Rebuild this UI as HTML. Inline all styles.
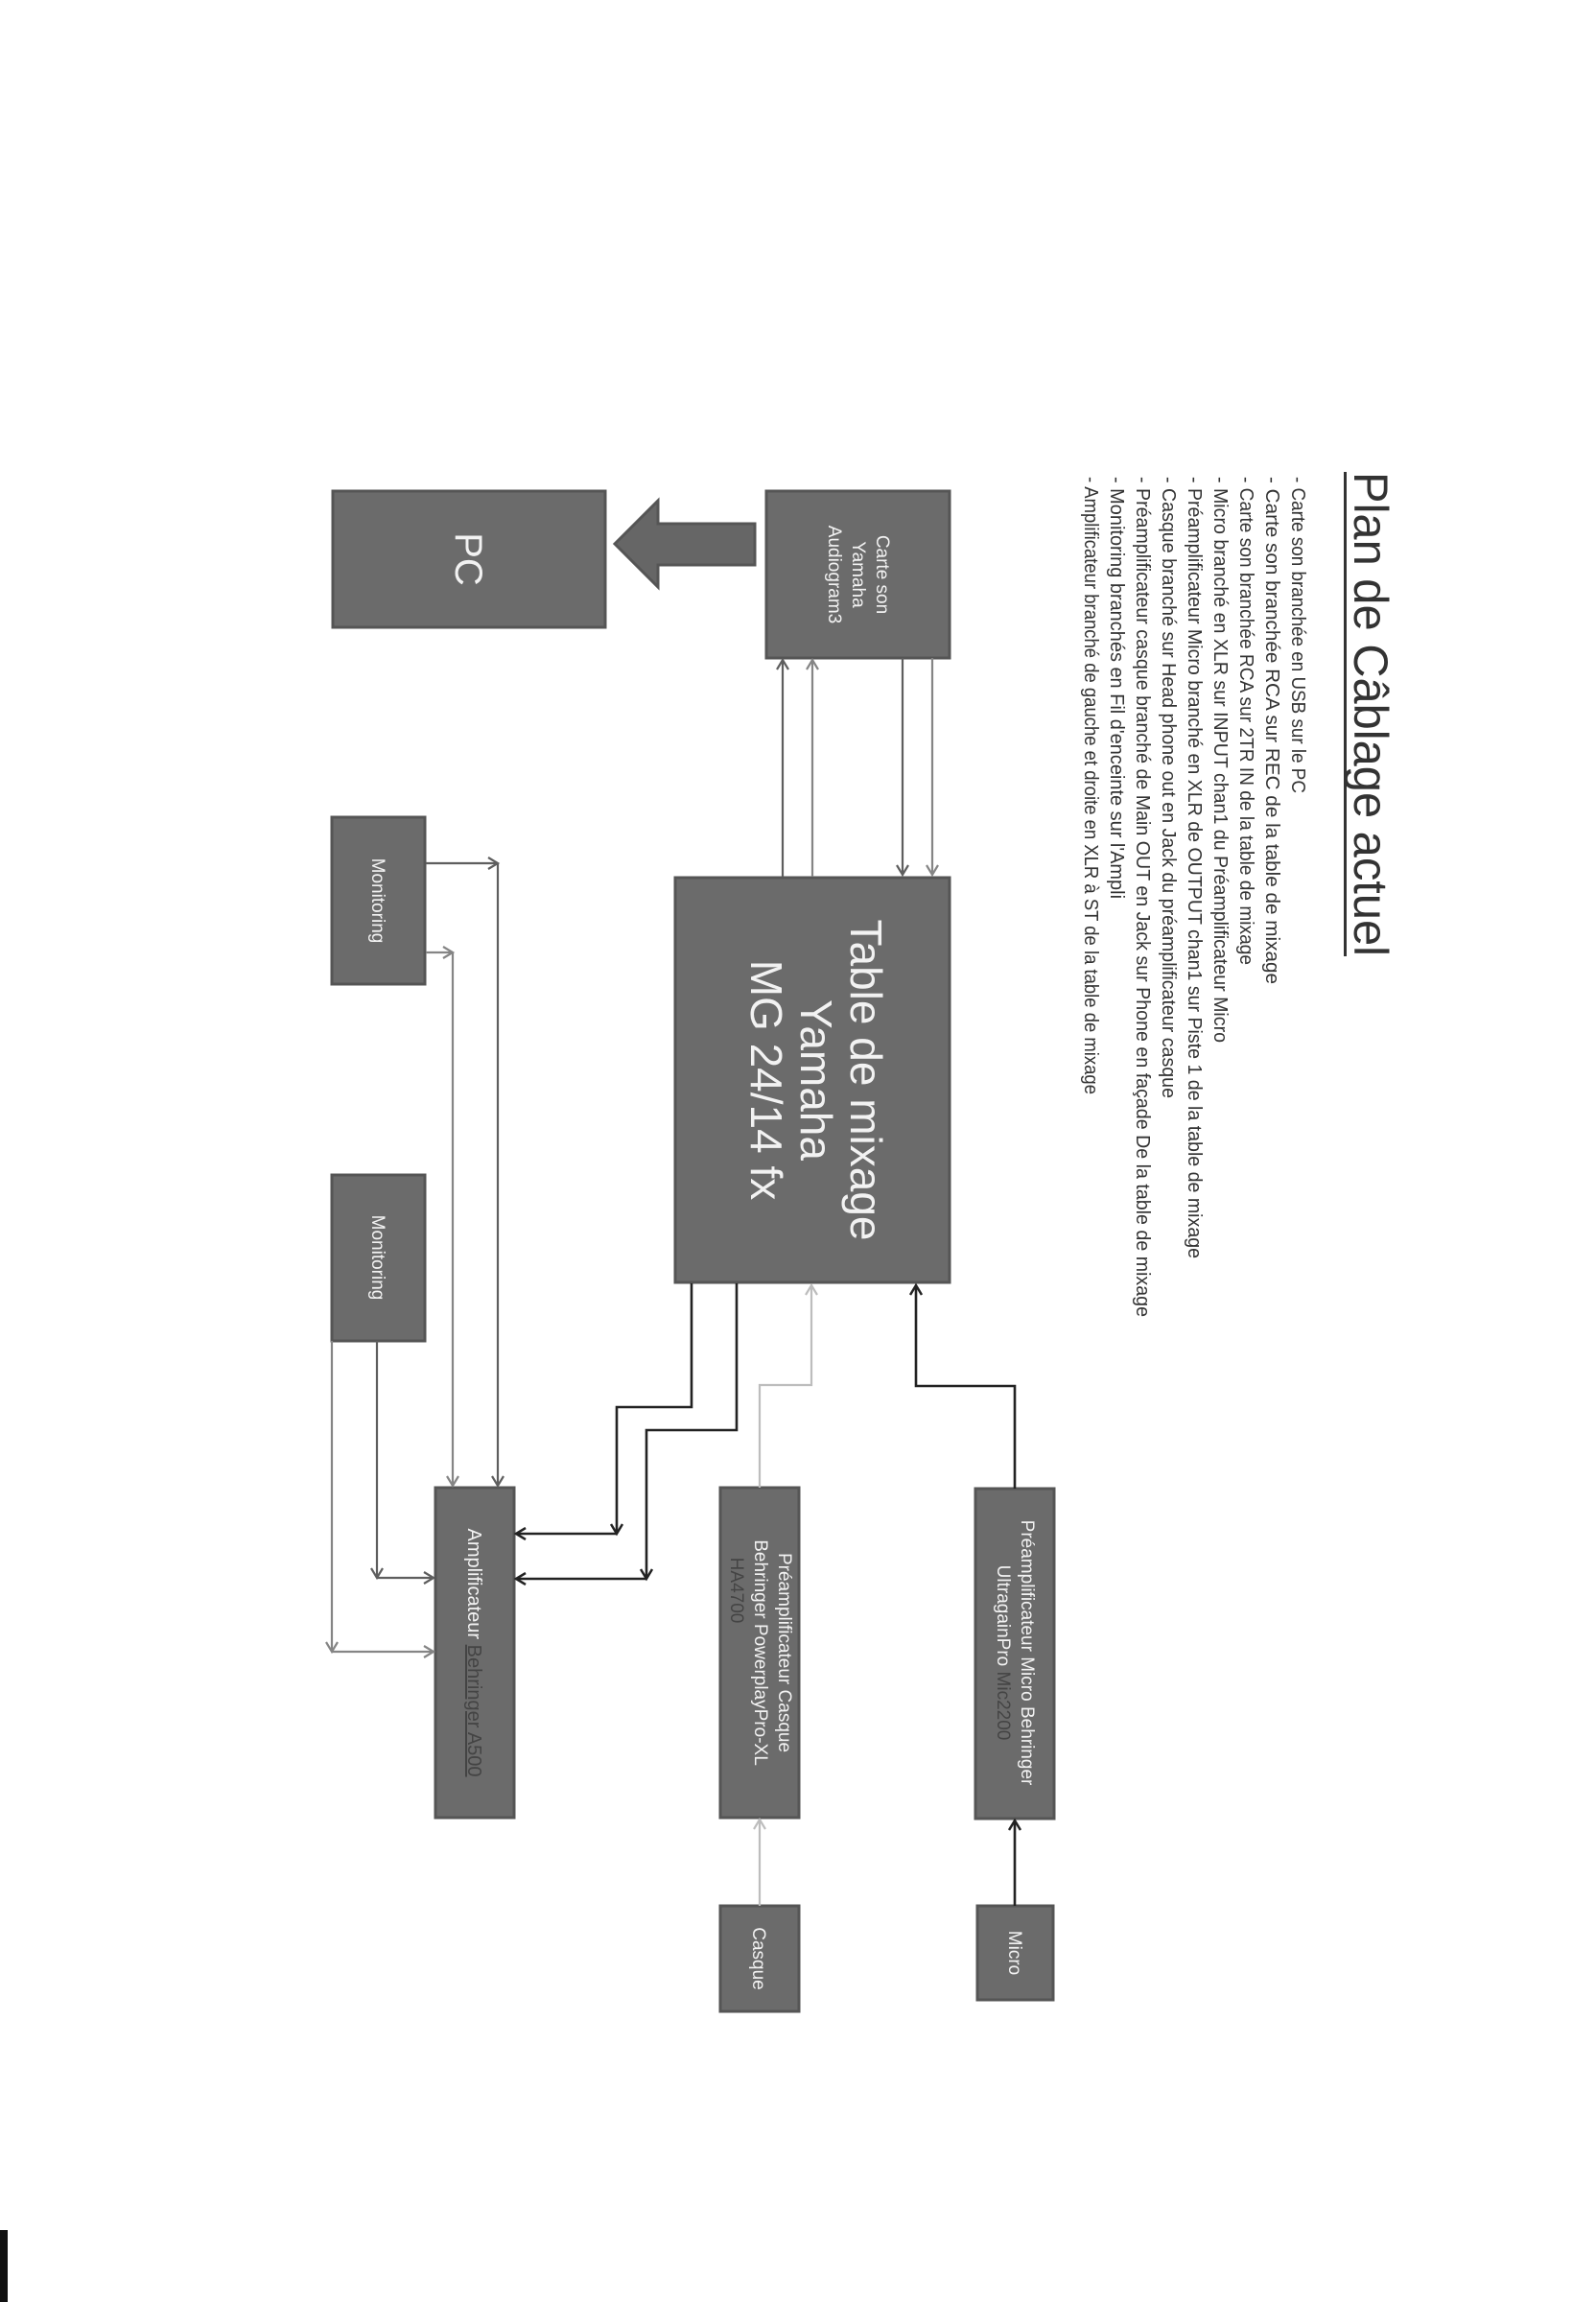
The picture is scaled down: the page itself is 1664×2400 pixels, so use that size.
<!DOCTYPE html>
<html><head><meta charset="utf-8"><style>
html,body{margin:0;padding:0;background:#fff;}
svg{display:block;}
text{font-family:"Liberation Sans","DejaVu Sans",sans-serif;}
</style></head><body>
<svg width="1664" height="2400" viewBox="0 0 1664 2400" xmlns="http://www.w3.org/2000/svg">
<defs>
<marker id="aD" markerWidth="14" markerHeight="14" refX="11" refY="7" orient="auto" markerUnits="userSpaceOnUse"><path d="M1,1 L11,7 L1,13" fill="none" stroke="#222" stroke-width="2.5"/></marker>
<marker id="aM" markerWidth="14" markerHeight="14" refX="11" refY="7" orient="auto" markerUnits="userSpaceOnUse"><path d="M1,1 L11,7 L1,13" fill="none" stroke="#5e5e5e" stroke-width="2.2"/></marker>
<marker id="aG" markerWidth="14" markerHeight="14" refX="11" refY="7" orient="auto" markerUnits="userSpaceOnUse"><path d="M1,1 L11,7 L1,13" fill="none" stroke="#858585" stroke-width="2.2"/></marker>
<marker id="aL" markerWidth="14" markerHeight="14" refX="11" refY="7" orient="auto" markerUnits="userSpaceOnUse"><path d="M1,1 L11,7 L1,13" fill="none" stroke="#bdbdbd" stroke-width="2.2"/></marker>
</defs>

<!-- Title -->
<g transform="translate(1412,492) rotate(90)">
<text x="0" y="0" font-size="50" fill="#333" textLength="505" lengthAdjust="spacingAndGlyphs">Plan de Câblage actuel</text>
<rect x="0" y="8" width="505" height="3" fill="#333"/>
</g>

<!-- bullets -->
<g font-size="20" fill="#333">
<text transform="translate(1347,497) rotate(90)" textLength="330" lengthAdjust="spacingAndGlyphs">- Carte son branchée en USB sur le PC</text>
<text transform="translate(1320,497) rotate(90)" textLength="529" lengthAdjust="spacingAndGlyphs">- Carte son branchée RCA sur REC de la table de mixage</text>
<text transform="translate(1293,497) rotate(90)" textLength="509" lengthAdjust="spacingAndGlyphs">- Carte son branchée RCA sur 2TR IN de la table de mixage</text>
<text transform="translate(1266,497) rotate(90)" textLength="590" lengthAdjust="spacingAndGlyphs">- Micro branché en XLR sur INPUT chan1 du Préamplificateur Micro</text>
<text transform="translate(1239,497) rotate(90)" textLength="815" lengthAdjust="spacingAndGlyphs">- Préamplificateur Micro branché en XLR de OUTPUT chan1 sur Piste 1 de la table de mixage</text>
<text transform="translate(1212,497) rotate(90)" textLength="648" lengthAdjust="spacingAndGlyphs">- Casque branché sur Head phone out en Jack du préamplificateur casque</text>
<text transform="translate(1185,497) rotate(90)" textLength="876" lengthAdjust="spacingAndGlyphs">- Préamplificateur casque branché de Main OUT en Jack sur Phone en façade De la table de mixage</text>
<text transform="translate(1158,497) rotate(90)" textLength="440" lengthAdjust="spacingAndGlyphs">- Monitoring branchés en Fil d'enceinte sur l'Ampli</text>
<text transform="translate(1131,497) rotate(90)" textLength="644" lengthAdjust="spacingAndGlyphs">- Amplificateur branché de gauche et droite en XLR à ST de la table de mixage</text>
</g>

<!-- boxes -->
<g fill="#6b6b6b" stroke="#555" stroke-width="3">
<rect x="347" y="512" width="284" height="142"/>
<rect x="799" y="512" width="191" height="174"/>
<rect x="704" y="915" width="286" height="422"/>
<rect x="346" y="852" width="97" height="174"/>
<rect x="346" y="1225" width="97" height="173"/>
<rect x="454" y="1551" width="82" height="344"/>
<rect x="751" y="1551" width="82" height="344"/>
<rect x="1017" y="1552" width="82" height="344"/>
<rect x="751" y="1987" width="82" height="110"/>
<rect x="1019" y="1987" width="79" height="98"/>
</g>
<!-- big arrow -->
<path d="M787,546 L686,546 L686,522 L641,567 L686,612 L686,589 L787,589 Z" fill="#666" stroke="#555" stroke-width="3"/>

<!-- connectors -->
<g fill="none" stroke-width="2.2">
<line x1="816" y1="914" x2="816" y2="688" stroke="#5e5e5e" marker-end="url(#aM)"/>
<line x1="847" y1="914" x2="847" y2="688" stroke="#858585" marker-end="url(#aG)"/>
<line x1="941" y1="686" x2="941" y2="912" stroke="#5e5e5e" marker-end="url(#aM)"/>
<line x1="972" y1="686" x2="972" y2="912" stroke="#858585" marker-end="url(#aG)"/>

<path d="M444,900 L519,900" stroke="#5e5e5e" marker-end="url(#aM)"/>
<path d="M519,900 L519,1549" stroke="#5e5e5e" marker-end="url(#aM)"/>
<path d="M444,993 L472,993" stroke="#858585" marker-end="url(#aG)"/>
<path d="M472,993 L472,1549" stroke="#858585" marker-end="url(#aG)"/>

<path d="M393,1398 L393,1645" stroke="#5e5e5e" marker-end="url(#aM)"/>
<path d="M393,1645 L452,1645" stroke="#5e5e5e" marker-end="url(#aM)"/>
<path d="M346,1398 L346,1722" stroke="#858585" marker-end="url(#aG)"/>
<path d="M346,1722 L452,1722" stroke="#858585" marker-end="url(#aG)"/>

<path d="M721,1338 L721,1467 L643,1467 L643,1599" stroke="#222" stroke-width="2.6" marker-end="url(#aD)"/>
<path d="M643,1599 L538,1599" stroke="#222" stroke-width="2.6" marker-end="url(#aD)"/>
<path d="M768,1338 L768,1491 L674,1491 L674,1646" stroke="#222" stroke-width="2.6" marker-end="url(#aD)"/>
<path d="M674,1646 L538,1646" stroke="#222" stroke-width="2.6" marker-end="url(#aD)"/>

<path d="M792,1551 L792,1444 L846,1444 L846,1340" stroke="#bdbdbd" marker-end="url(#aL)"/>
<path d="M1058,1552 L1058,1445 L955,1445 L955,1340" stroke="#222" stroke-width="2.6" marker-end="url(#aD)"/>

<path d="M792,1987 L792,1897" stroke="#bdbdbd" marker-end="url(#aL)"/>
<path d="M1058,1987 L1058,1898" stroke="#222" stroke-width="2.6" marker-end="url(#aD)"/>
</g>

<!-- box labels -->
<g fill="#f2f2f2" text-anchor="middle">
<text transform="translate(475,583) rotate(90)" font-size="40">PC</text>
<g transform="translate(894,599) rotate(90)" font-size="19">
<text x="0" y="-20">Carte son</text><text x="0" y="5">Yamaha</text><text x="0" y="30">Audiogram3</text>
</g>
<g transform="translate(847,1126) rotate(90)" font-size="46">
<text x="0" y="-40">Table de mixage</text><text x="0" y="12">Yamaha</text><text x="0" y="64">MG 24/14 fx</text>
</g>
<text transform="translate(388,939) rotate(90)" font-size="19">Monitoring</text>
<text transform="translate(388,1311) rotate(90)" font-size="19">Monitoring</text>
<text transform="translate(488,1723) rotate(90)" font-size="20">Amplificateur <tspan fill="#444" text-decoration="underline">Behringer A500</tspan></text>
<g transform="translate(792,1723) rotate(90)" font-size="19">
<text x="0" y="-20">Préamplificateur Casque</text><text x="0" y="5">Behringer PowerplayPro-XL</text><text x="-65" y="30" fill="#444">HA4700</text>
</g>
<g transform="translate(1058,1723) rotate(90)" font-size="19">
<text x="0" y="-7">Préamplificateur Micro Behringer</text><text x="0" y="18">UltragainPro <tspan fill="#444">Mic2200</tspan></text>
</g>
<text transform="translate(785,2042) rotate(90)" font-size="19">Casque</text>
<text transform="translate(1052,2036) rotate(90)" font-size="19">Micro</text>
</g>

<rect x="0" y="2325" width="8" height="75" fill="#111"/>
</svg>
</body></html>
